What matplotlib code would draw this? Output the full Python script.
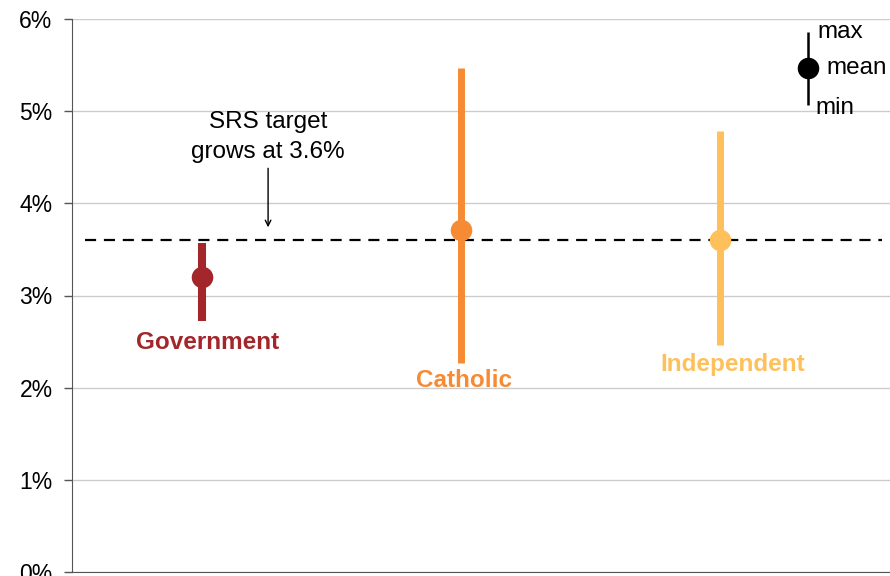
import numpy as np
import matplotlib.pyplot as plt
from matplotlib.ticker import FuncFormatter

plt.rcParams['font.family'] = ['Liberation Sans', 'DejaVu Sans']

# data (growth rates, %)
sectors = ["Government", "Catholic", "Independent"]
mean_vals = [3.2, 3.71, 3.6]
max_vals = [3.57, 5.47, 4.78]
min_vals = [2.72, 2.27, 2.46]
label_y = [2.49, 2.08, 2.25]
colors = ["#A3262A", "#F68B33", "#FEC05B"]
srs_target = 3.6

# legend key (made-up spread, in data units)
key_x = 2.34
key_vals = [5.86, 5.47, 5.07]

fig = plt.figure(figsize=(8.9, 5.76), dpi=100)
ax = fig.add_axes([72 / 890, 4 / 576, 818 / 890, 553 / 576])

x = np.arange(len(sectors))
lws = [5.8, 5.0, 5.0]
for i, name in enumerate(sectors):
    ax.vlines(x[i], min_vals[i], max_vals[i], color=colors[i], lw=lws[i], zorder=3)
    ax.plot(x[i], mean_vals[i], "o", ms=14.5, color=colors[i], zorder=4)
    ax.text(x[i] + [0.02, 0.01, 0.05][i], label_y[i], name, color=colors[i],
            fontsize=17.5, fontweight="bold", ha="center", va="center")

# SRS target line
ax.axhline(srs_target, xmin=0.016, xmax=0.99, color="black", lw=1.6,
           ls=(0, (5, 3.5)), zorder=2)
ax.text(0.255, 4.72, "SRS target\ngrows at 3.6%", ha="center", va="center",
        fontsize=17.5, linespacing=1.45)
ax.annotate("", xy=(0.255, 3.74), xytext=(0.255, 4.38),
            arrowprops=dict(arrowstyle="->", color="black", lw=1,
                            shrinkA=0, shrinkB=0))

# legend key
ax.vlines(key_x, key_vals[2], key_vals[0], color="black", lw=1.8, zorder=3)
ax.plot(key_x, key_vals[1], "o", ms=14.5, color="black", zorder=4)
ax.text(key_x + 0.035, key_vals[0], "max", fontsize=17.5, va="center")
ax.text(key_x + 0.07, key_vals[1], "mean", fontsize=17.5, va="center")
ax.text(key_x + 0.03, key_vals[2] - 0.04, "min", fontsize=17.5, va="center")

ax.set_xlim(-0.502, 2.656)
ax.set_ylim(0, 6)
ax.set_yticks(np.arange(0, 7, 1))
ax.yaxis.set_major_formatter(FuncFormatter(lambda v, p: f"{v:.0f}%"))
ax.tick_params(axis="y", labelsize=16.5, length=6, width=1, color="#555555",
               pad=8)
ax.set_xticks([])
ax.grid(axis="y", color="#CCCCCC", lw=1)
ax.set_axisbelow(True)
for s in ["top", "right"]:
    ax.spines[s].set_visible(False)
ax.spines["left"].set_color("#555555")
ax.spines["bottom"].set_color("#555555")

fig.savefig("out.png", dpi=100)
